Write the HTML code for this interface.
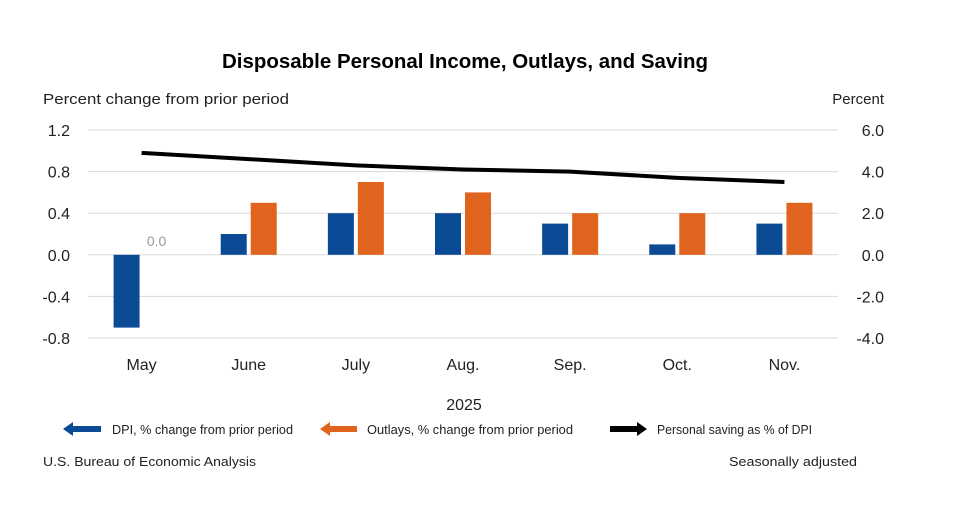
<!DOCTYPE html>
<html><head><meta charset="utf-8"><style>
body{margin:0;background:#fff;width:977px;height:508px;overflow:hidden;font-family:"Liberation Sans",sans-serif}
svg text{font-family:"Liberation Sans",sans-serif}
</style></head><body>
<svg id="c" width="977" height="508">
<text x="465" y="68" text-anchor="middle" font-size="20" font-weight="bold" fill="#000" textLength="486" lengthAdjust="spacingAndGlyphs">Disposable Personal Income, Outlays, and Saving</text>
<text x="43" y="104" font-size="15" fill="#222" textLength="246" lengthAdjust="spacingAndGlyphs">Percent change from prior period</text>
<text x="884" y="104" text-anchor="end" font-size="15" fill="#222">Percent</text>
<g id="grid"></g><g id="bars"></g><g id="line"></g><g id="axes"></g>
<text x="464" y="410" text-anchor="middle" font-size="16" fill="#222">2025</text>
<g>
<polygon points="63,429 73,422 73,426 101,426 101,432 73,432 73,436" fill="#0b4a95"/>
<text x="112" y="434" font-size="13" fill="#222" textLength="181" lengthAdjust="spacingAndGlyphs">DPI, % change from prior period</text>
<polygon points="320,429 330,422 330,426 357,426 357,432 330,432 330,436" fill="#e0641e"/>
<text x="367" y="434" font-size="13" fill="#222" textLength="206" lengthAdjust="spacingAndGlyphs">Outlays, % change from prior period</text>
<polygon points="647,429 637,422 637,426 610,426 610,432 637,432 637,436" fill="#000"/>
<text x="657" y="434" font-size="13" fill="#222" textLength="155" lengthAdjust="spacingAndGlyphs">Personal saving as % of DPI</text>
</g>
<text x="43" y="466" font-size="13" fill="#222" textLength="213" lengthAdjust="spacingAndGlyphs">U.S. Bureau of Economic Analysis</text>
<text x="857" y="466" text-anchor="end" font-size="13" fill="#222" textLength="128" lengthAdjust="spacingAndGlyphs">Seasonally adjusted</text>
</svg>
<script>
const categories=["May","June","July","Aug.","Sep.","Oct.","Nov."];
const dpi=[-0.7,0.2,0.4,0.4,0.3,0.1,0.3];
const outlays=[0.0,0.5,0.7,0.6,0.4,0.4,0.5];
const saving=[4.9,4.6,4.3,4.1,4.0,3.7,3.5];
const leftTicks=["1.2","0.8","0.4","0.0","-0.4","-0.8"];
const rightTicks=["6.0","4.0","2.0","0.0","-2.0","-4.0"];
const NS="http://www.w3.org/2000/svg";
const plotTop=130,plotBot=338,x0=88,x1=838;
const yL=v=>plotTop+(1.2-v)/2.0*(plotBot-plotTop);
const yR=v=>plotTop+(6-v)/10*(plotBot-plotTop);
const band=(x1-x0)/categories.length;
const xc=i=>x0+band*(i+0.5);
function mk(t,a,p){const e=document.createElementNS(NS,t);for(const k in a)e.setAttribute(k,a[k]);document.getElementById(p).appendChild(e);return e;}
leftTicks.forEach((t,i)=>{const y=yL(parseFloat(t));
 const g=mk('line',{x1:x0,x2:x1,y1:y,y2:y,stroke:'#d9d9d9','stroke-width':1},'grid');
 
 
 const a=mk('text',{x:70,y:y+6,'text-anchor':'end','font-size':16,fill:'#222'},'axes');a.textContent=t;
 
 
 const b=mk('text',{x:884,y:y+6,'text-anchor':'end','font-size':16,fill:'#222'},'axes');b.textContent=rightTicks[i];
 
 
});
const bw=26,gap=4;
categories.forEach((c,i)=>{
 const cx=xc(i);
 const y0=yL(0);
 const yd=yL(dpi[i]);
 const r1=mk('rect',{x:cx-gap/2-bw,y:Math.min(y0,yd),width:bw,height:Math.abs(yd-y0),fill:'#0b4a95'},'bars');
 
 
 const yo=yL(outlays[i]);
 const r2=mk('rect',{x:cx+gap/2,y:Math.min(y0,yo),width:bw,height:Math.abs(yo-y0),fill:'#e0641e'},'bars');
 
 
 if(outlays[i]===0){const l=mk('text',{x:cx+gap/2+bw/2,y:y0-9,'text-anchor':'middle','font-size':14,fill:'#999'},'bars');l.textContent='0.0';
  
  }
 const t=mk('text',{x:cx,y:370,'text-anchor':'middle','font-size':16,fill:'#222'},'axes');t.textContent=c;
 
 
});
const pts=saving.map((v,i)=>xc(i)+','+yR(v)).join(' ');
const pl=mk('polyline',{points:pts,fill:'none',stroke:'#000','stroke-width':4,'stroke-linejoin':'round'},'line');


</script>
</body></html>
